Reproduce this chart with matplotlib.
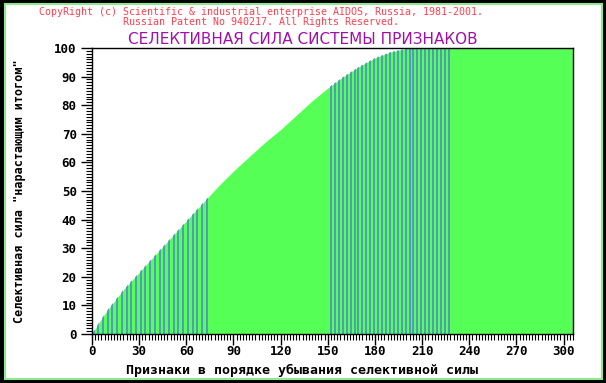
import matplotlib
matplotlib.use("Agg")
import matplotlib.pyplot as plt
from matplotlib.patches import Rectangle
from matplotlib.ticker import MultipleLocator

# cumulative selective power
features = [0, 5, 10, 20, 30, 40, 50, 60, 70, 80, 90, 100, 110, 120,
            130, 140, 150, 160, 170, 180, 190, 200, 205, 306]
power = [0, 4.5, 8.5, 15.5, 21.5, 27.5, 33.5, 39.5, 45.5, 51.5, 57, 62,
         67, 71.5, 76.5, 81.5, 86, 90, 93.5, 96.5, 98.6, 99.8, 100, 100]

# positions of the blue marker lines
marks_a = [1, 4, 7, 10, 13, 16, 19, 22, 25, 28, 31, 34, 37, 40, 43, 46,
           49, 52, 55, 58, 61, 64, 67, 70, 73]
marks_b = [152, 154.5, 157, 159.5, 162, 164.5, 167, 169.5, 172, 174.5,
           177, 179.5, 182, 184.5, 187, 189.5, 192, 194.5, 197, 199.5,
           202, 204.5, 207, 209.5, 212, 214.5, 217, 219.5, 222, 224.5, 227]

mono = "DejaVu Sans Mono"

fig = plt.figure(figsize=(6.06, 3.83), dpi=100)
fig.patch.set_facecolor("black")
fig.patches.append(Rectangle((5 / 606, 4 / 383), 597 / 606, 375 / 383,
                             transform=fig.transFigure, facecolor="white",
                             edgecolor="#8fe88f", lw=1.5, zorder=-10))

ax = fig.add_axes([92 / 606, 1 - 334 / 383, 481 / 606, 286 / 383])
ax.set_zorder(5)
poly = ax.fill_between(features, 0, power, color="#55ff55", lw=0)
lines = ax.vlines(marks_a + marks_b, 0, 100, color="#4f7fd8", lw=1.1)
lines.set_clip_path(poly.get_paths()[0], ax.transData)

ax.set_xlim(0, 306)
ax.set_ylim(0, 100)
ax.xaxis.set_major_locator(MultipleLocator(30))
ax.xaxis.set_minor_locator(MultipleLocator(2))
ax.yaxis.set_major_locator(MultipleLocator(10))
ax.yaxis.set_minor_locator(MultipleLocator(1))
ax.tick_params(which="major", length=8, width=1, direction="out")
ax.tick_params(axis="y", pad=3)
ax.tick_params(axis="x", pad=0)
ax.tick_params(which="minor", length=4, width=0.8, direction="out")
for lab in ax.get_xticklabels() + ax.get_yticklabels():
    lab.set_family(mono)
    lab.set_fontweight("bold")
    lab.set_fontsize(9)
for s in ax.spines.values():
    s.set_linewidth(1)

fig.text(302 / 606, 1 - 370 / 383,
         "Признаки в порядке убывания селективной силы",
         ha="center", va="center", family=mono, fontweight="bold",
         fontsize=9.5)
fig.text(20 / 606, 1 - 191 / 383, 'Селективная сила "нарастающим итогом"',
         rotation=90, ha="center", va="center", family=mono,
         fontweight="bold", fontsize=8.5)

fig.text(261 / 606, 1 - 12 / 383,
         "CopyRight (c) Scientific & industrial enterprise AIDOS, Russia, 1981-2001.",
         ha="center", va="center", family=mono, fontsize=7.2, color="#ff3f4f")
fig.text(261 / 606, 1 - 22 / 383,
         "Russian Patent No 940217. All Rights Reserved.",
         ha="center", va="center", family=mono, fontsize=7.2, color="#ff3f4f")
fig.text(303 / 606, 1 - 39 / 383, "СЕЛЕКТИВНАЯ СИЛА СИСТЕМЫ ПРИЗНАКОВ",
         ha="center", va="center", fontsize=11, color="#a010a8")

fig.savefig("out.png", dpi=100, facecolor=fig.get_facecolor())
